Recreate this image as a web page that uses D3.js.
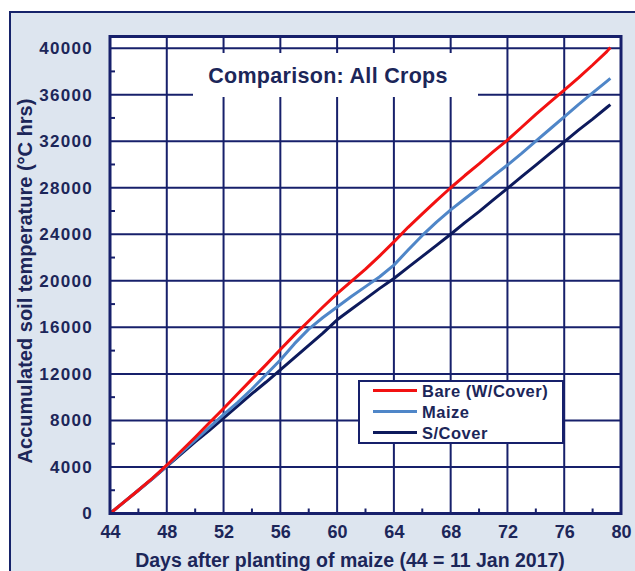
<!DOCTYPE html>
<html>
<head>
<meta charset="utf-8">
<script src="https://cdn.jsdelivr.net/npm/d3@7"></script>
<style>
  body { margin: 0; background: #ffffff; }
  text { font-family: "Liberation Sans", Arial, sans-serif; font-weight: bold; fill: #1c2659; }
</style>
</head>
<body>
<div id="visualContainer"></div>
<script>
var days = [44, 45, 46, 47, 48, 49, 50, 51, 52, 53, 54, 55, 56, 57, 58, 59, 60, 61, 62,
    63, 64, 65, 66, 67, 68, 69, 70, 71, 72, 73, 74, 75, 76, 77, 78, 79, 79.25];

var bare = [0, 1000, 2000, 3050, 4150, 5350, 6550, 7800, 9030, 10300, 11550, 12800, 14100,
    15350, 16550, 17750, 18900, 19950, 21000, 22150, 23350, 24600, 25750, 26900, 28000,
    29050, 30050, 31100, 32100, 33200, 34300, 35350, 36400, 37450, 38550, 39700, 40050];

var maize = [0, 1000, 2000, 3000, 4100, 5200, 6300, 7400, 8500, 9550, 10700, 11950, 13200,
    14600, 15850, 16850, 17750, 18650, 19500, 20350, 21350, 22650, 23900, 25050, 26100,
    27050, 28000, 29000, 29950, 30950, 32000, 33050, 34100, 35150, 36150, 37150, 37400];

var sCover = [0, 1000, 2000, 3000, 4050, 5100, 6150, 7150, 8200, 9250, 10300, 11300, 12350,
    13400, 14450, 15500, 16650, 17550, 18450, 19350, 20200, 21150, 22100, 23050, 24000,
    25000, 25950, 26950, 27950, 28950, 29950, 30950, 31950, 32950, 33900, 34900, 35150];

var seriesNames = ["Bare (W/Cover)", "Maize", "S/Cover"];
var seriesColors = ["#f21111", "#4f86c8", "#0d1a5c"];
var xTicks = [44, 48, 52, 56, 60, 64, 68, 72, 76, 80];
var yTicks = [0, 4000, 8000, 12000, 16000, 20000, 24000, 28000, 32000, 36000, 40000];

var navy = "#17206b";
var plotLeft = 110, plotRight = 621, plotTop = 36.5, plotBottom = 513.5;

var svgCanvas = d3.select("#visualContainer")
    .append("svg")
    .attr("width", 635)
    .attr("height", 571);

// outer frame, cut off at the right and bottom
svgCanvas.append("rect")
    .attr("x", 10).attr("y", 12)
    .attr("width", 640).attr("height", 580)
    .attr("fill", "#dde5ef")
    .attr("stroke", "#16236a")
    .attr("stroke-width", 2);

var xScale = d3.scaleLinear().domain([44, 80]).range([plotLeft, plotRight]);
var yScale = d3.scaleLinear().domain([0, 41000]).range([plotBottom, plotTop]);

svgCanvas.append("rect")
    .attr("x", plotLeft).attr("y", plotTop)
    .attr("width", plotRight - plotLeft).attr("height", plotBottom - plotTop)
    .attr("fill", "#ffffff");

// grid
svgCanvas.selectAll(".vgrid")
    .data(xTicks.slice(1, -1))
    .enter()
    .append("line")
    .attr("class", "vgrid")
    .attr("x1", function(d) { return xScale(d) })
    .attr("x2", function(d) { return xScale(d) })
    .attr("y1", plotTop).attr("y2", plotBottom)
    .attr("stroke", navy).attr("stroke-width", 2);

svgCanvas.selectAll(".hgrid")
    .data(yTicks.slice(1))
    .enter()
    .append("line")
    .attr("class", "hgrid")
    .attr("x1", plotLeft).attr("x2", plotRight)
    .attr("y1", function(d) { return yScale(d) })
    .attr("y2", function(d) { return yScale(d) })
    .attr("stroke", navy).attr("stroke-width", 2);

// title box hides the grid behind it
svgCanvas.append("rect")
    .attr("x", 193).attr("y", 53)
    .attr("width", 285).attr("height", 44)
    .attr("fill", "#ffffff");

svgCanvas.append("text")
    .attr("x", 328).attr("y", 83)
    .attr("text-anchor", "middle")
    .style("font-size", "21.5px")
    .style("letter-spacing", "0.3px")
    .text("Comparison: All Crops");

// axes with minor ticks inside
var xAxis = d3.axisBottom(xScale)
    .tickValues(xTicks)
    .tickSize(0)
    .tickPadding(12)
    .tickFormat(d3.format("d"));

var gx = svgCanvas.append("g")
    .attr("transform", "translate(0," + plotBottom + ")")
    .call(xAxis);
gx.select(".domain").remove();
gx.selectAll("text").style("font-size", "18px").attr("fill", "#1c2659");

var yAxis = d3.axisLeft(yScale)
    .tickValues(yTicks)
    .tickSize(0)
    .tickPadding(17)
    .tickFormat(d3.format("d"));

var gy = svgCanvas.append("g")
    .attr("transform", "translate(" + plotLeft + ",0)")
    .call(yAxis);
gy.select(".domain").remove();
gy.selectAll("text").style("font-size", "17px").style("letter-spacing", "1.3px").attr("fill", "#1c2659");

svgCanvas.selectAll(".xminor")
    .data(d3.range(46, 80, 4))
    .enter()
    .append("line")
    .attr("x1", function(d) { return xScale(d) })
    .attr("x2", function(d) { return xScale(d) })
    .attr("y1", plotBottom).attr("y2", plotBottom - 5)
    .attr("stroke", navy).attr("stroke-width", 2);

svgCanvas.selectAll(".yminor")
    .data(d3.range(2000, 41000, 4000))
    .enter()
    .append("line")
    .attr("x1", plotLeft).attr("x2", plotLeft + 5)
    .attr("y1", function(d) { return yScale(d) })
    .attr("y2", function(d) { return yScale(d) })
    .attr("stroke", navy).attr("stroke-width", 2);

// data lines
var lineGen = d3.line()
    .x(function(d) { return xScale(d[0]) })
    .y(function(d) { return yScale(d[1]) });

var allSeries = [bare, maize, sCover];
for (var i = allSeries.length - 1; i >= 0; i--) {
    svgCanvas.append("path")
        .datum(days.map(function(d, j) { return [d, allSeries[i][j]] }))
        .attr("d", lineGen)
        .attr("fill", "none")
        .attr("stroke", seriesColors[i])
        .attr("stroke-width", 3)
        .attr("stroke-linejoin", "round");
}

svgCanvas.append("rect")
    .attr("x", plotLeft).attr("y", plotTop)
    .attr("width", plotRight - plotLeft).attr("height", plotBottom - plotTop)
    .attr("fill", "none")
    .attr("stroke", navy)
    .attr("stroke-width", 3);

// legend
svgCanvas.append("rect")
    .attr("x", 359).attr("y", 381)
    .attr("width", 204).attr("height", 62)
    .attr("fill", "#ffffff")
    .attr("stroke", navy)
    .attr("stroke-width", 2);

var legendRows = svgCanvas.selectAll(".legendRow")
    .data(seriesNames)
    .enter()
    .append("g")
    .attr("transform", function(d, i) { return "translate(373," + (390.5 + i * 21) + ")" });

legendRows.append("line")
    .attr("x1", 0).attr("x2", 44)
    .attr("stroke", function(d, i) { return seriesColors[i] })
    .attr("stroke-width", 3);

legendRows.append("text")
    .attr("x", 49).attr("y", 6)
    .style("font-size", "16.5px")
    .style("letter-spacing", "0.5px")
    .text(function(d) { return d });

// axis titles
svgCanvas.append("text")
    .attr("x", 350).attr("y", 567)
    .attr("text-anchor", "middle")
    .style("font-size", "19.5px")
    .text("Days after planting of maize (44 = 11 Jan 2017)");

svgCanvas.append("text")
    .attr("transform", "translate(32,281) rotate(-90)")
    .attr("text-anchor", "middle")
    .style("font-size", "20px")
    .text("Accumulated soil temperature (°C hrs)");
</script>
</body>
</html>
